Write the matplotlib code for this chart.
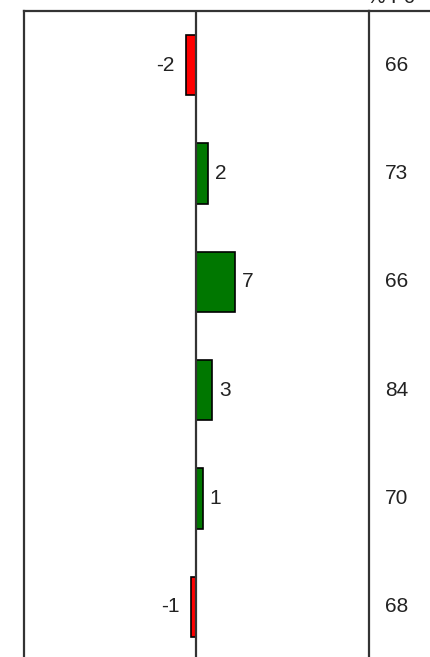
import matplotlib
matplotlib.use("Agg")
import matplotlib.pyplot as plt

# values (labels are rounded)
changes = [-1.8, 2.2, 7.0, 2.9, 1.2, -0.9]
change_labels = ["-2", "2", "7", "3", "1", "-1"]
pct_values = ["66", "73", "66", "84", "70", "68"]
header = "% r c"

W, H = 431, 657
fig = plt.figure(figsize=(W / 100, H / 100), dpi=100)
plt.rcParams['font.family'] = ['Liberation Sans', 'DejaVu Sans']

def px(x0, y0, x1, y1):
    # pixel box (top-left origin) -> figure fraction
    return [x0 / W, 1 - y1 / H, (x1 - x0) / W, (y1 - y0) / H]

line_col = '#333333'
lw = 1.6
fs = 15

ax = fig.add_axes(px(24, 11, 369, 661))
ax.set_xlim(-30.9, 31.1)
ax.set_ylim(5.5, -0.5)
rows = list(range(len(changes)))
colors = ['#ff0000' if v < 0 else '#007700' for v in changes]
ax.barh(rows, changes, height=0.555, color=colors, edgecolor='black', linewidth=1.2, zorder=3)
ax.axvline(0, color=line_col, linewidth=lw, zorder=4)
for r, v, lab in zip(rows, changes, change_labels):
    if v < 0:
        ax.annotate(lab, (v, r), xytext=(-8.5, 0), textcoords='offset points',
                    ha='right', va='center', fontsize=fs, color='#222222')
    else:
        ax.annotate(lab, (v, r), xytext=(5, 0), textcoords='offset points',
                    ha='left', va='center', fontsize=fs, color='#222222')
ax.set_xticks([])
ax.set_yticks([])
for s in ['bottom', 'right']:
    ax.spines[s].set_visible(False)
for s in ['left', 'top']:
    ax.spines[s].set_color(line_col)
    ax.spines[s].set_linewidth(lw)

ax2 = fig.add_axes(px(369, 11, 500, 661))
ax2.set_xlim(0, 1)
ax2.set_ylim(5.5, -0.5)
for r, t in zip(rows, pct_values):
    ax2.text(16 / 131, r, t, ha='left', va='center', fontsize=fs, color='#222222')
ax2.set_xticks([])
ax2.set_yticks([])
for s in ['bottom', 'right']:
    ax2.spines[s].set_visible(False)
for s in ['left', 'top']:
    ax2.spines[s].set_color(line_col)
    ax2.spines[s].set_linewidth(lw)

# header sits mostly above the top edge, as in the reference
fig.text(367 / W, 1 - 3 / H, header, ha='left', va='baseline', fontsize=fs, color='#222222')

fig.savefig('out.png', dpi=100)
